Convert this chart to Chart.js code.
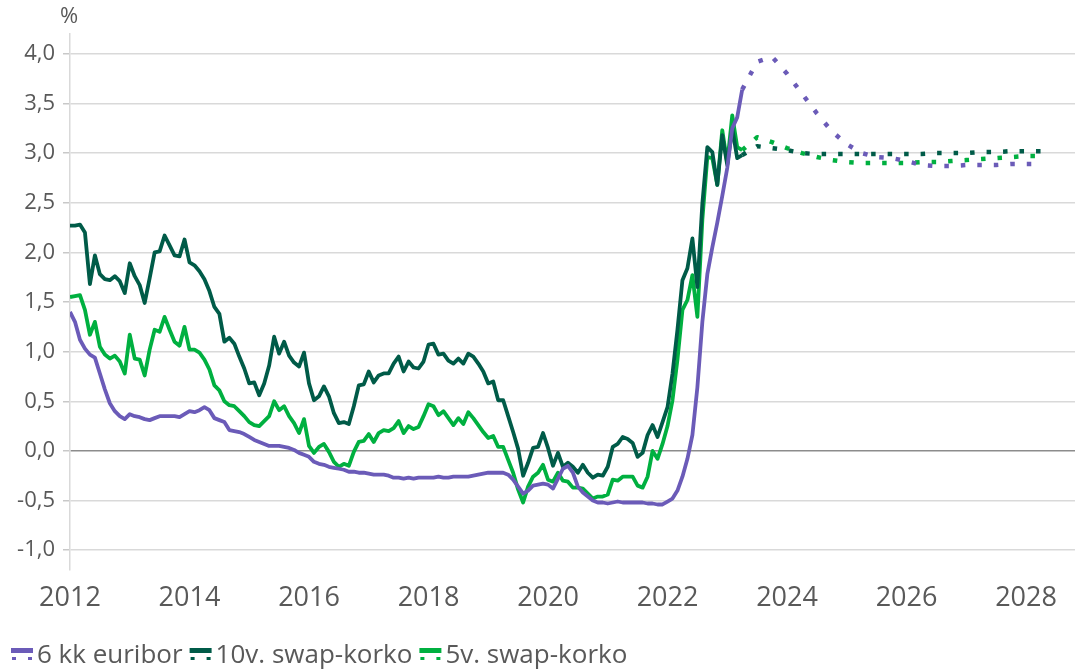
<!DOCTYPE html>
<html>
<head>
<meta charset="utf-8">
<script src="https://cdn.jsdelivr.net/npm/chart.js@4.4.1/dist/chart.umd.min.js"></script>
<style>
    html, body { margin: 0; padding: 0; background: #fff; }
    #wrap { width: 1076px; height: 669px; }
</style>
</head>
<body>
<div id="wrap"><canvas id="chart" width="1076" height="669"></canvas></div>
<script>
// Monthly history, January 2012 onwards
const histStartYear = 2012;
const euriborHist = [
    1.40, 1.30, 1.12, 1.03, 0.97, 0.94, 0.78, 0.62, 0.48, 0.40, 0.35, 0.32,
    0.37, 0.35, 0.34, 0.32, 0.31, 0.33, 0.35, 0.35, 0.35, 0.35, 0.34, 0.37,
    0.40, 0.39, 0.41, 0.44, 0.41, 0.33, 0.31, 0.29, 0.21, 0.20, 0.19, 0.17,
    0.14, 0.11, 0.09, 0.07, 0.05, 0.05, 0.05, 0.04, 0.03, 0.01, -0.02, -0.04,
    -0.06, -0.11, -0.13, -0.14, -0.16, -0.17, -0.18, -0.19, -0.21, -0.21, -0.22, -0.22,
    -0.23, -0.24, -0.24, -0.24, -0.25, -0.27, -0.27, -0.28, -0.27, -0.28, -0.27, -0.27,
    -0.27, -0.27, -0.26, -0.27, -0.27, -0.26, -0.26, -0.26, -0.26, -0.25, -0.24, -0.23,
    -0.22, -0.22, -0.22, -0.22, -0.24, -0.29, -0.36, -0.43, -0.40, -0.35, -0.34, -0.33,
    -0.34, -0.38, -0.28, -0.18, -0.15, -0.22, -0.36, -0.42, -0.46, -0.50, -0.52, -0.52,
    -0.53, -0.52, -0.51, -0.52, -0.52, -0.52, -0.52, -0.52, -0.53, -0.53, -0.54, -0.54,
    -0.51, -0.48, -0.40, -0.26, -0.08, 0.16, 0.64, 1.30, 1.78, 2.05, 2.30, 2.57,
    2.85, 3.25, 3.36, 3.64
];
const swap10Hist = [
    2.27, 2.27, 2.28, 2.20, 1.68, 1.97, 1.78, 1.73, 1.72, 1.76, 1.71, 1.59,
    1.89, 1.76, 1.67, 1.49, 1.74, 2.00, 2.01, 2.17, 2.07, 1.97, 1.96, 2.13,
    1.90, 1.87, 1.81, 1.73, 1.61, 1.45, 1.38, 1.10, 1.14, 1.08, 0.95, 0.83,
    0.68, 0.69, 0.56, 0.68, 0.86, 1.15, 0.98, 1.10, 0.96, 0.89, 0.85, 0.99,
    0.68, 0.51, 0.55, 0.65, 0.55, 0.38, 0.28, 0.29, 0.27, 0.45, 0.66, 0.67,
    0.80, 0.69, 0.76, 0.78, 0.78, 0.88, 0.95, 0.80, 0.90, 0.84, 0.83, 0.90,
    1.07, 1.08, 0.97, 0.98, 0.91, 0.88, 0.93, 0.88, 0.98, 0.95, 0.88, 0.80,
    0.68, 0.70, 0.51, 0.51, 0.35, 0.19, 0.02, -0.25, -0.12, 0.03, 0.04, 0.18,
    0.03, -0.15, -0.02, -0.16, -0.12, -0.16, -0.22, -0.14, -0.22, -0.27, -0.24, -0.25,
    -0.16, 0.04, 0.07, 0.14, 0.12, 0.08, -0.06, -0.02, 0.16, 0.26, 0.14, 0.29,
    0.44, 0.78, 1.22, 1.72, 1.84, 2.14, 1.65, 2.49, 3.06, 3.01, 2.68, 3.18,
    2.88, 3.25, 2.95, 2.98
];
const swap5Hist = [
    1.55, 1.56, 1.57, 1.42, 1.17, 1.30, 1.05, 0.97, 0.93, 0.96, 0.90, 0.78,
    1.17, 0.93, 0.92, 0.76, 1.02, 1.22, 1.20, 1.35, 1.22, 1.10, 1.06, 1.25,
    1.02, 1.02, 0.99, 0.92, 0.82, 0.66, 0.61, 0.50, 0.46, 0.45, 0.40, 0.35,
    0.29, 0.26, 0.25, 0.30, 0.35, 0.50, 0.41, 0.45, 0.35, 0.28, 0.18, 0.32,
    0.05, -0.02, 0.04, 0.07, -0.01, -0.11, -0.16, -0.13, -0.15, -0.01, 0.09, 0.10,
    0.17, 0.09, 0.18, 0.21, 0.20, 0.23, 0.30, 0.18, 0.25, 0.22, 0.24, 0.35,
    0.47, 0.45, 0.36, 0.40, 0.33, 0.26, 0.33, 0.27, 0.39, 0.33, 0.26, 0.19,
    0.13, 0.15, 0.04, 0.04, -0.09, -0.22, -0.39, -0.52, -0.36, -0.26, -0.22, -0.14,
    -0.29, -0.31, -0.22, -0.30, -0.31, -0.37, -0.37, -0.38, -0.43, -0.48, -0.46, -0.46,
    -0.44, -0.29, -0.30, -0.26, -0.26, -0.26, -0.35, -0.37, -0.26, 0.00, -0.08, 0.07,
    0.25, 0.51, 0.92, 1.42, 1.52, 1.77, 1.35, 2.33, 2.96, 2.95, 2.68, 3.23,
    2.90, 3.38, 3.06, 3.03
];

// Market expectations (dotted), quarterly
const forecastMonths = [
    '2023-04', '2023-07', '2023-10', '2024-01', '2024-04', '2024-07', '2024-10',
    '2025-01', '2025-04', '2025-07', '2025-10', '2026-01', '2026-04', '2026-07',
    '2026-10', '2027-01', '2027-04', '2027-07', '2027-10', '2028-01', '2028-04'
];
const euriborForecast = [3.64, 3.92, 3.97, 3.80, 3.60, 3.40, 3.22, 3.09, 3.00, 2.96, 2.95,
    2.92, 2.88, 2.87, 2.87, 2.88, 2.88, 2.88, 2.89, 2.89, 2.89];
const swap10Forecast = [2.98, 3.07, 3.05, 3.03, 3.00, 2.99, 2.99, 2.99, 2.99, 2.99, 2.99,
    2.99, 2.99, 3.00, 3.00, 3.00, 3.01, 3.01, 3.02, 3.02, 3.02];
const swap5Forecast = [3.03, 3.16, 3.11, 3.05, 3.00, 2.96, 2.93, 2.91, 2.90, 2.90, 2.90,
    2.90, 2.91, 2.91, 2.92, 2.93, 2.94, 2.95, 2.96, 2.97, 2.97];

const seriesNames = ['6 kk euribor', '10v. swap-korko', '5v. swap-korko'];
const yearTicks = [2012, 2014, 2016, 2018, 2020, 2022, 2024, 2026, 2028];
const valueTicks = [-1.0, -0.5, 0.0, 0.5, 1.0, 1.5, 2.0, 2.5, 3.0, 3.5, 4.0];

const colors = ['#6b5bb8', '#005b48', '#00b040'];
const textColor = '#595959';

function histPoints(values) {
    return values.map((v, i) => ({ x: histStartYear + i / 12, y: v }));
}

function forecastPoints(values) {
    return values.map((v, i) => {
        const parts = forecastMonths[i].split('-');
        return { x: Number(parts[0]) + (Number(parts[1]) - 1) / 12, y: v };
    });
}

function lineSet(label, points, color, dotted) {
    return {
        label: label,
        data: points,
        borderColor: color,
        backgroundColor: color,
        borderWidth: dotted ? 4.5 : 3.8,
        borderDash: dotted ? [4.5, 12] : [],
        borderCapStyle: 'butt',
        borderJoinStyle: 'round',
        pointRadius: 0,
        tension: 0,
        fill: false
    };
}

// Legend at the bottom and the % unit label
const extrasPlugin = {
    id: 'extras',
    afterDraw(chart) {
        const ctx = chart.ctx;
        ctx.save();
        ctx.fillStyle = textColor;
        ctx.font = '22px "Open Sans"';
        ctx.textAlign = 'center';
        ctx.textBaseline = 'middle';
        ctx.fillText('%', chart.chartArea.left - 1, 17);

        ctx.font = '26px "Open Sans"';
        ctx.textAlign = 'left';
        let x = 11;
        const y = 656;
        seriesNames.forEach((name, i) => {
            ctx.fillStyle = colors[i];
            ctx.fillRect(x, y - 8, 22, 5);
            ctx.fillRect(x + 1, y + 1, 4, 3);
            ctx.fillRect(x + 17, y + 1, 4, 3);
            ctx.fillStyle = textColor;
            ctx.fillText(name, x + 26, y);
            x += 26 + ctx.measureText(name).width + 7;
        });
        ctx.restore();
    }
};

const ctx = document.getElementById('chart').getContext('2d');
new Chart(ctx, {
    type: 'line',
    data: {
        datasets: [
            lineSet(seriesNames[0], histPoints(euriborHist), colors[0], false),
            lineSet(seriesNames[0] + ' ennuste', forecastPoints(euriborForecast), colors[0], true),
            lineSet(seriesNames[1], histPoints(swap10Hist), colors[1], false),
            lineSet(seriesNames[1] + ' ennuste', forecastPoints(swap10Forecast), colors[1], true),
            lineSet(seriesNames[2], histPoints(swap5Hist), colors[2], false),
            lineSet(seriesNames[2] + ' ennuste', forecastPoints(swap5Forecast), colors[2], true)
        ]
    },
    options: {
        responsive: false,
        devicePixelRatio: 1,
        animation: false,
        layout: { padding: { top: 34, right: 1, left: 0, bottom: 0 } },
        plugins: {
            legend: { display: false },
            tooltip: { enabled: false }
        },
        scales: {
            x: {
                type: 'linear',
                min: 2012,
                max: 2028.82,
                afterBuildTicks: scale => { scale.ticks = yearTicks.map(v => ({ value: v })); },
                afterFit: scale => { scale.height = 99; },
                grid: { display: false },
                border: { display: false },
                ticks: {
                    color: textColor,
                    font: { family: 'Open Sans', size: 27 },
                    padding: 4,
                    maxRotation: 0,
                    autoSkip: false,
                    callback: v => String(v)
                }
            },
            y: {
                min: -1.2,
                max: 4.2,
                afterBuildTicks: scale => { scale.ticks = valueTicks.map(v => ({ value: v })); },
                afterFit: scale => { scale.width = 70; },
                grid: {
                    color: c => (c.tick && c.tick.value === 0 ? '#8c8c8c' : '#d9d9d9'),
                    lineWidth: 1.5,
                    tickLength: 7,
                    tickColor: '#c8c8c8'
                },
                border: { display: true, color: '#d9d9d9', width: 1.5 },
                ticks: {
                    color: textColor,
                    font: { family: 'Open Sans', size: 22 },
                    padding: 8,
                    callback: v => v.toFixed(1).replace('.', ',')
                }
            }
        }
    },
    plugins: [extrasPlugin]
});
</script>
</body>
</html>
